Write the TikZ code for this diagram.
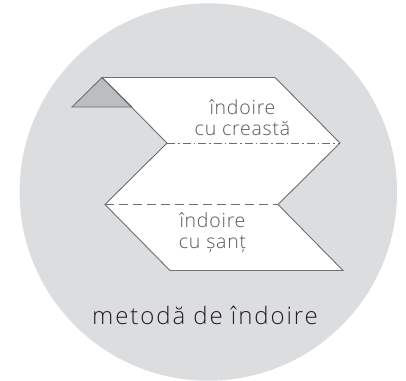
\documentclass[tikz,border=0pt]{standalone}
\usepackage{fontspec}
\setmainfont{Open Sans Light}[LetterSpace=4]
\newfontfamily\capfont{Open Sans Light}[LetterSpace=8]
\definecolor{bgc}{HTML}{DCDDDF}
\definecolor{linec}{HTML}{6D6E71}
\definecolor{foldc}{HTML}{BCBDC0}
\definecolor{lab}{HTML}{58595B}
\definecolor{cap}{HTML}{231F20}
\tikzset{
  x=1pt,y=-1pt,
  edge/.style={draw=linec,line width=0.9pt,line join=miter},
  foldlabel/.style={text=lab,font=\fontsize{19.5}{21}\selectfont,align=center,inner sep=0pt},
}
\begin{document}
\begin{tikzpicture}
\useasboundingbox (0,0) rectangle (406,380);
\begin{scope}
\clip (0,0) rectangle (406,380);
\fill[bgc] (208.3,192) circle [radius=188.7];
\end{scope}
\coordinate (a) at (102,77.5);
\coordinate (b) at (275,77.5);
\coordinate (c) at (340,143);
\coordinate (d) at (278,204.5);
\coordinate (e) at (343,270.5);
\coordinate (f) at (170,270.5);
\coordinate (g) at (105,204.5);
\coordinate (h) at (167,143);
\fill[white] (a)--(b)--(c)--(d)--(e)--(f)--(g)--(h)--cycle;
\coordinate (t) at (72,107);
\coordinate (u) at (132,107);
\draw[edge,fill=foldc] (a)--(t)--(u)--cycle;
\draw[edge] (h)--(a)--(b)--(c)--(d)--(e)--(f)--(g)--(h);
\draw[linec,line width=0.7pt,dash pattern=on 8pt off 3pt on 1.5pt off 3pt] (h)--(c);
\draw[linec,line width=0.7pt,dash pattern=on 9pt off 5pt] (g)--(d);
\node[foldlabel] (l1) at (242.5,118) {îndoire\\cu creastă};
\node[foldlabel] (l2) at (212.5,233) {îndoire\\cu șanț};
\node[text=cap,font=\capfont\fontsize{24}{24}\selectfont,anchor=base,inner sep=0pt] (title) at (205,324) {metodă de îndoire};
\end{tikzpicture}
\end{document}
